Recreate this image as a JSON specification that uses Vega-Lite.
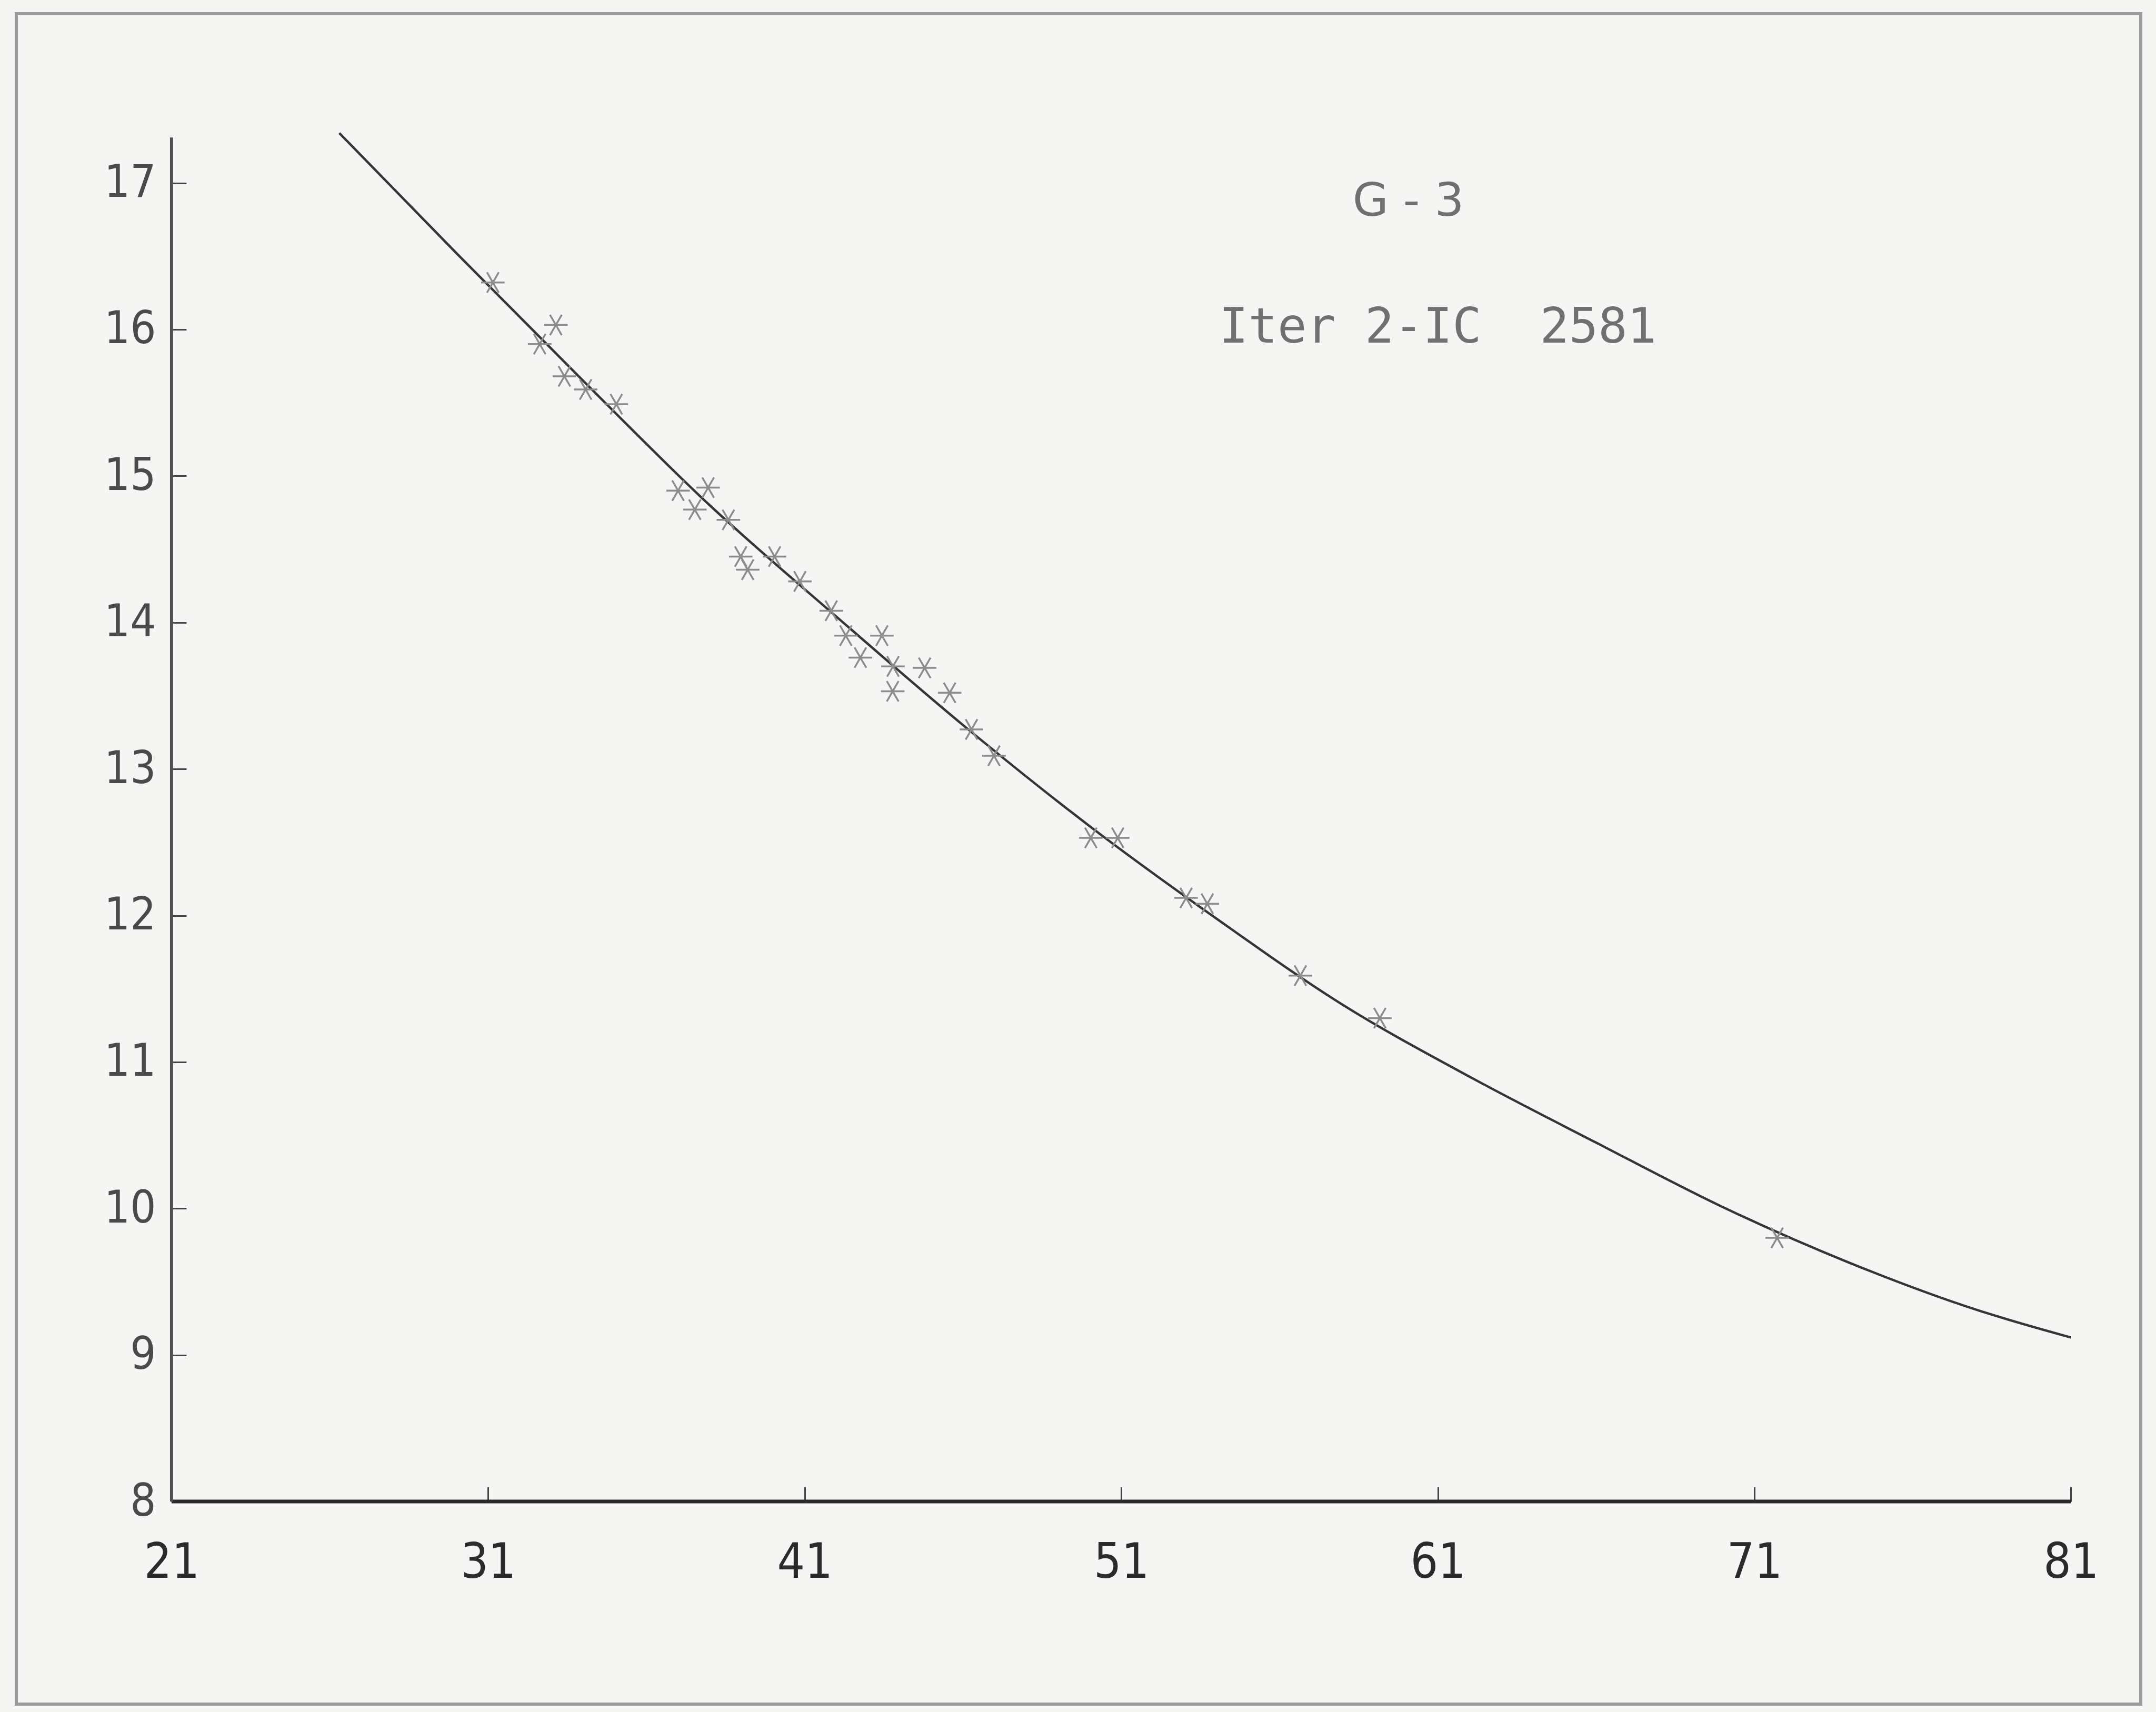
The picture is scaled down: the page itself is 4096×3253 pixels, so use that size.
{
  "$schema": "https://vega.github.io/schema/vega-lite/v6.json",
  "autosize": {"type": "none"},
  "width": 4036,
  "height": 3212,
  "padding": {"left": 31, "top": 26, "right": 29, "bottom": 15},
  "background": "#f5f5f4",
  "config": {
    "view": {"stroke": "#9a9a9a", "strokeWidth": 6},
    "axis": {"grid": false, "domain": false, "labelFont": "Liberation Sans Narrow, DejaVu Sans Condensed, sans-serif", "tickColor": "#444444", "tickWidth": 3, "tickSize": -28, "title": null, "labelOverlap": false, "labelFlush": false}
  },
  "datasets": {
    "xaxis": [{"x": 21, "y": 8, "x2": 81, "y2": 8}],
    "yaxis": [{"x": 21, "y": 8, "x2": 21, "y2": 17.31}],
    "curve": [
      {"x": 26.30, "y": 17.34}, {"x": 30, "y": 16.52}, {"x": 34, "y": 15.65}, {"x": 38, "y": 14.80},
      {"x": 42, "y": 14.04}, {"x": 46, "y": 13.30}, {"x": 50, "y": 12.61}, {"x": 54, "y": 11.98},
      {"x": 58, "y": 11.39}, {"x": 62, "y": 10.90}, {"x": 66, "y": 10.45}, {"x": 70, "y": 10.01},
      {"x": 74, "y": 9.63}, {"x": 78, "y": 9.31}, {"x": 81, "y": 9.12}
    ],
    "points": [
      {"x": 31.15, "y": 16.32}, {"x": 33.14, "y": 16.03}, {"x": 32.63, "y": 15.90}, {"x": 33.41, "y": 15.68},
      {"x": 34.08, "y": 15.59}, {"x": 35.05, "y": 15.49}, {"x": 37.00, "y": 14.90}, {"x": 37.95, "y": 14.92},
      {"x": 37.53, "y": 14.77}, {"x": 38.59, "y": 14.70}, {"x": 38.98, "y": 14.45}, {"x": 40.05, "y": 14.45},
      {"x": 39.20, "y": 14.36}, {"x": 40.85, "y": 14.28}, {"x": 41.84, "y": 14.08}, {"x": 42.30, "y": 13.91},
      {"x": 43.44, "y": 13.91}, {"x": 42.76, "y": 13.76}, {"x": 43.79, "y": 13.70}, {"x": 44.79, "y": 13.69},
      {"x": 43.78, "y": 13.53}, {"x": 45.58, "y": 13.52}, {"x": 46.27, "y": 13.27}, {"x": 46.98, "y": 13.09},
      {"x": 50.04, "y": 12.53}, {"x": 50.89, "y": 12.53}, {"x": 53.05, "y": 12.12}, {"x": 53.72, "y": 12.08},
      {"x": 56.66, "y": 11.59}, {"x": 59.17, "y": 11.30}, {"x": 71.72, "y": 9.80}
    ],
    "title1": [{"x": 60.07, "y": 16.87, "text": "G - 3"}],
    "title2": [{"x": 61.0, "y": 16.01, "text": "Iter 2-IC\u00a0\u00a02581"}]
  },
  "encoding": {
    "x": {"field": "x", "type": "quantitative",
      "scale": {"domain": [16.096, 83.206], "nice": false, "zero": false}},
    "y": {"field": "y", "type": "quantitative",
      "scale": {"domain": [6.6175, 18.155], "nice": false, "zero": false}}
  },
  "layer": [
    {
      "data": {"name": "xaxis"},
      "mark": {"type": "rule", "stroke": "#2a2a2a", "strokeWidth": 7},
      "encoding": {
        "x": {"field": "x", "type": "quantitative",
          "axis": {"orient": "bottom", "offset": -384.9, "values": [21, 31, 41, 51, 61, 71, 81], "format": "d",
            "labelFontSize": 92, "labelColor": "#2b2b2b", "labelPadding": 99}},
        "y": {"field": "y", "type": "quantitative",
          "axis": {"orient": "left", "offset": -294.9, "values": [8, 9, 10, 11, 12, 13, 14, 15, 16, 17], "format": "d",
            "labelFontSize": 86, "labelColor": "#4a4a4a", "labelPadding": 58}},
        "x2": {"field": "x2"},
        "y2": {"field": "y2"}
      }
    },
    {
      "data": {"name": "yaxis"},
      "mark": {"type": "rule", "stroke": "#505050", "strokeWidth": 6},
      "encoding": {"x2": {"field": "x2"}, "y2": {"field": "y2"}}
    },
    {
      "data": {"name": "curve"},
      "mark": {"type": "line", "stroke": "#353535", "strokeWidth": 4.5, "interpolate": "monotone"},
      "encoding": {"order": {"field": "x", "type": "quantitative"}}
    },
    {
      "data": {"name": "points"},
      "mark": {"type": "point", "shape": "M-1,0L1,0M-0.5,-0.866L0.5,0.866M-0.5,0.866L0.5,-0.866", "filled": false, "stroke": "#8c8c8c", "strokeWidth": 3.5, "size": 2000, "opacity": 1},
      "encoding": {}
    },
    {
      "data": {"name": "title1"},
      "mark": {"type": "text", "font": "DejaVu Sans", "fontSize": 88, "color": "#707070", "align": "center", "baseline": "middle"},
      "encoding": {"text": {"field": "text"}}
    },
    {
      "data": {"name": "title2"},
      "mark": {"type": "text", "font": "DejaVu Sans Mono", "fontSize": 92, "color": "#707070", "align": "center", "baseline": "middle"},
      "encoding": {"text": {"field": "text"}}
    }
  ]
}
